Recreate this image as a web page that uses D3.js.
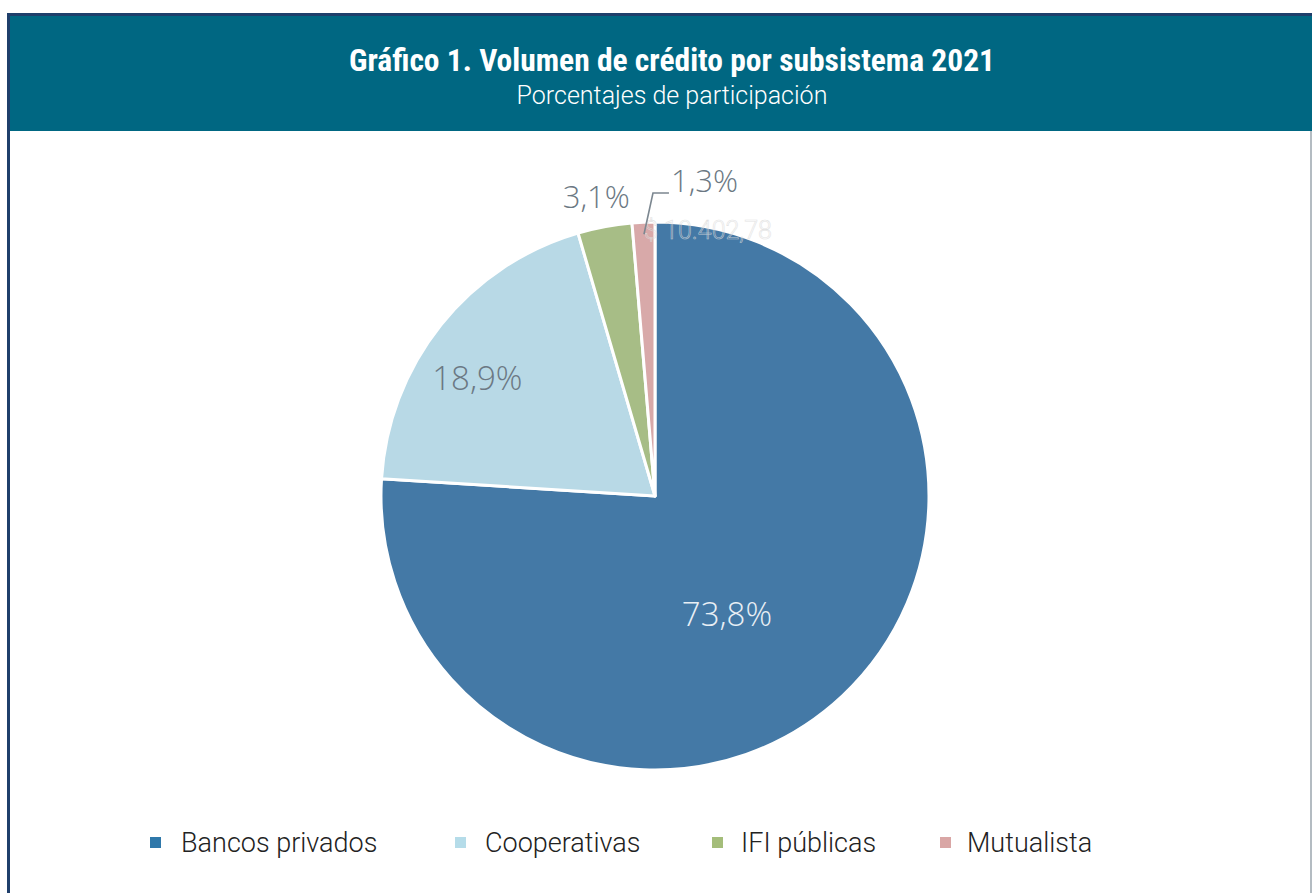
<html>
<head>
<meta charset="utf-8">
<script src="https://cdn.jsdelivr.net/npm/d3@7"></script>
<style>
  body { margin: 0; background: #fff; }
  svg { display: block; }
</style>
<title>Volumen de crédito por subsistema 2021</title>
</head>
<body>
<div id="chart"></div>
<script>
// data
var categories = ["Bancos privados", "Cooperativas", "IFI públicas", "Mutualista"];
var shares = [73.8, 18.9, 3.1, 1.3];
var labels = ["73,8%", "18,9%", "3,1%", "1,3%"];
var sliceColors = ["#4479a6", "#b8d9e6", "#a7bd86", "#d8a9a9"];
var legendColors = ["#2f78aa", "#b5dce9", "#a4bd7a", "#d9a6a5"];

var W = 1312, H = 893;
var svg = d3.select("#chart").append("svg")
  .attr("width", W).attr("height", H);

// frame + header band
svg.append("rect").attr("x", 10).attr("y", 15).attr("width", W - 10).attr("height", 116)
  .attr("fill", "#006782");
svg.append("rect").attr("x", 7).attr("y", 13).attr("width", W - 7).attr("height", 3)
  .attr("fill", "#1f3f6b");
svg.append("rect").attr("x", 7).attr("y", 13).attr("width", 3).attr("height", H - 13)
  .attr("fill", "#1f3f6b");
svg.append("rect").attr("x", W - 2).attr("y", 131).attr("width", 2).attr("height", H - 131)
  .attr("fill", "#b4bcc2");

svg.append("text").attr("x", 672).attr("y", 71)
  .attr("text-anchor", "middle")
  .style("font-family", "'Liberation Sans Narrow', 'Roboto Condensed', 'DejaVu Sans Condensed', sans-serif")
  .style("font-stretch", "condensed")
  .style("font-weight", "bold").style("font-size", "31.5px").attr("fill", "#fff")
  .text("Gráfico 1. Volumen de crédito por subsistema 2021");
svg.append("text").attr("x", 672).attr("y", 104)
  .attr("text-anchor", "middle")
  .style("font-family", "Roboto, 'Liberation Sans', sans-serif")
  .style("font-weight", 300).style("font-size", "25px").attr("fill", "#fff")
  .text("Porcentajes de participación");

// pie
var cx = 655, cy = 496, R = 274;
var pie = d3.pie().sort(null).value(function(d){ return d; });
var arcs = pie(shares);
var arc = d3.arc().innerRadius(0).outerRadius(R);
var g = svg.append("g").attr("transform", "translate(" + cx + "," + cy + ")");

g.selectAll("path.slice").data(arcs).enter().append("path")
  .attr("class", "slice")
  .attr("d", arc)
  .attr("fill", function(d, i){ return sliceColors[i]; })
  .attr("stroke", "#fff").attr("stroke-width", 3).attr("stroke-linejoin", "round");

// faint leftover label behind the chart
g.append("text").attr("x", 53).attr("y", -257)
  .attr("text-anchor", "middle")
  .style("font-family", "Roboto, 'Liberation Sans', sans-serif")
  .style("font-weight", 300).style("font-size", "25px")
  .attr("fill", "none").attr("stroke", "#dcdcdc").attr("stroke-width", 0.6)
  .attr("opacity", 0.8)
  .text("$ 10.402,78");

var labelFont = "'Open Sans', 'Lato', sans-serif";
function mid(d){ return (d.startAngle + d.endAngle) / 2; }
function polar(a, r){ return [Math.sin(a) * r, -Math.cos(a) * r]; }

// inside labels (angle tweak, radius)
var insideAdjust = [[0.21, 139], [-0.09, 213]];
[0, 1].forEach(function(i){
  var p = polar(mid(arcs[i]) + insideAdjust[i][0], insideAdjust[i][1]);
  g.append("text")
    .attr("x", p[0]).attr("y", p[1])
    .attr("dy", "0.35em").attr("text-anchor", "middle")
    .style("font-family", labelFont).style("font-weight", 300).style("font-size", "33px")
    .attr("fill", i === 0 ? "#e9eff5" : "#6b7883")
    .text(labels[i]);
});

// outside label for IFI
var pG = polar(mid(arcs[2]), R + 30);
g.append("text")
  .attr("x", pG[0] - 3).attr("y", pG[1])
  .attr("dy", "0.35em").attr("text-anchor", "middle")
  .style("font-family", labelFont).style("font-weight", 300).style("font-size", "31px").attr("fill", "#6b7883")
  .text(labels[2]);

// outside label with leader for Mutualista
var p0 = polar(mid(arcs[3]), R - 12);
var p1 = [p0[0] + 9, -R - 29];
var p2 = [p1[0] + 16, p1[1]];
g.append("path")
  .attr("d", d3.line()([p0, p1, p2]))
  .attr("fill", "none").attr("stroke", "#7c8790").attr("stroke-width", 1.6);
g.append("text")
  .attr("x", p2[0] + 2).attr("y", p2[1] - 12)
  .attr("dy", "0.35em")
  .style("font-family", labelFont).style("font-weight", 300).style("font-size", "31px").attr("fill", "#6b7883")
  .text(labels[3]);

// legend
var legendX = [150, 455, 712, 940];
var leg = svg.append("g").attr("transform", "translate(0,837)");
var items = leg.selectAll("g").data(categories).enter().append("g")
  .attr("transform", function(d, i){ return "translate(" + legendX[i] + ",0)"; });
items.append("rect").attr("width", 11).attr("height", 11)
  .attr("fill", function(d, i){ return legendColors[i]; });
items.append("text").attr("x", function(d, i){ return [31, 30, 29, 27][i]; }).attr("y", 15)
  .style("font-family", "Roboto, 'Liberation Sans', sans-serif")
  .style("font-weight", 300).style("font-size", "27px").attr("fill", "#222")
  .text(function(d){ return d; });
</script>
</body>
</html>
